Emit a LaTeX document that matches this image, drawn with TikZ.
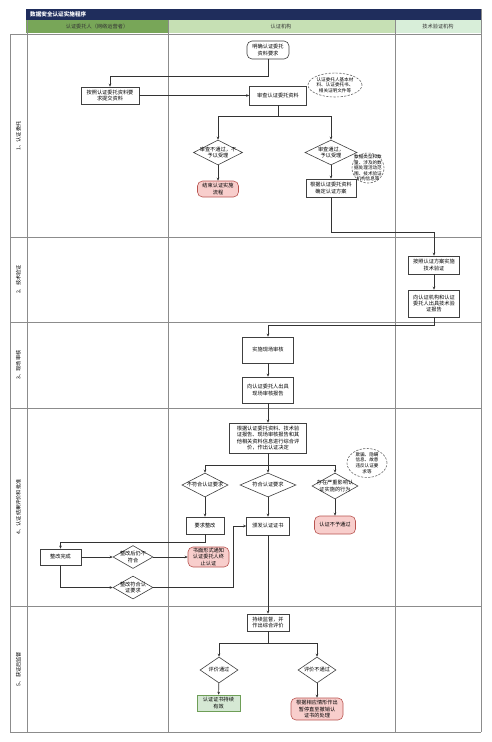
\documentclass[tikz,border=0pt]{standalone}
\usepackage{fontspec}
\newfontfamily\cjk{Noto Sans CJK SC}
\usetikzlibrary{arrows.meta,shapes.geometric}

\definecolor{navy}{RGB}{31,45,92}
\definecolor{laneA}{RGB}{120,166,88}
\definecolor{laneB}{RGB}{198,224,180}
\definecolor{laneC}{RGB}{216,238,217}
\definecolor{pinkfill}{HTML}{F8CECC}
\definecolor{pinkline}{HTML}{B85450}
\definecolor{greenfill}{HTML}{D5E8D4}
\definecolor{greenline}{HTML}{6E9E57}

\begin{document}
\begin{tikzpicture}[x=1pt,y=-1pt,>={Stealth[length=3pt,width=2.6pt]},
  every node/.style={font=\cjk\fontsize{5.2}{6.4}\selectfont,align=center,inner sep=0pt},
  box/.style={draw=black!75,line width=0.6pt,fill=white},
  term/.style={box,rounded corners=5pt},
  bad/.style={term,draw=pinkline,fill=pinkfill},
  good/.style={box,draw=greenline,fill=greenfill},
  dec/.style={diamond,draw=black!75,line width=0.6pt,fill=white,label={center:#1}},
  note/.style={ellipse,draw=black!60,line width=0.6pt,dash pattern=on 2.2pt off 1.4pt,fill=white,
    label={[font=\cjk\fontsize{4.6}{5.6}\selectfont]center:#1}},
  arr/.style={->,draw=black!80,line width=0.6pt},
  lane/.style={draw=black!45,line width=0.5pt},
  sec/.style={draw=black!45,line width=1pt}]
  \useasboundingbox (0,0) rectangle (491,742);

  % header
  \fill[navy] (26,9) rectangle (481,20);
  \node[anchor=west,text=white,font=\cjk\bfseries\fontsize{5.6}{6.6}\selectfont] (title) at (30,14.5) {数据安全认证实施程序};
  \fill[laneA] (26,20) rectangle (168,33);
  \fill[laneB] (168,20) rectangle (395,33);
  \fill[laneC] (395,20) rectangle (481,33);
  \node[text=black!80] (laneA) at (97,27) {认证委托人（网络运营者）};
  \node[text=black!80] (laneB) at (281,27) {认证机构};
  \node[text=black!80] (laneC) at (438,27) {技术验证机构};

  % grid
  \draw[lane] (10,34) -- (10,732) (27,20) -- (27,732) (168,20) -- (168,732)
    (395,20) -- (395,732) (481,9) -- (481,732);
  \draw[sec] (10,34) -- (481,34);
  \foreach \y in {237,322,408,606,732}
    \draw[sec] (10,\y) -- (481,\y);
  \node[rotate=90] (s1) at (18.5,136) {1、认证委托};
  \node[rotate=90] (s2) at (18.5,279.5) {2、技术验证};
  \node[rotate=90] (s3) at (18.5,365) {3、现场审核};
  \node[rotate=90] (s4) at (18.5,507) {4、认证结果评价和批准};
  \node[rotate=90] (s5) at (18.5,669) {5、获证后监督};

  % 1
  \node[term,minimum width=42,minimum height=18] (start) at (268,50) {明确认证委托\\资料要求};
  \node[box,minimum width=58,minimum height=17] (submit) at (110,95.5) {按照认证委托资料要\\求提交资料};
  \node[box,minimum width=57,minimum height=19] (review) at (278,95.5) {审查认证委托资料};
  \node[note={认证委托人基本材\\料、认证委托书、\\相关证明文件等},minimum width=54,minimum height=24] (note1) at (335,85) {};
  \node[dec={审查不通过，不\\予以受理},minimum width=49,minimum height=25] (rejDec) at (218,152.5) {};
  \node[dec={审查通过，\\予以受理},minimum width=52,minimum height=25] (accDec) at (331,152.5) {};
  \node[bad,minimum width=41,minimum height=16] (endA) at (218,189) {结束认证实施\\流程};
  \node[box,minimum width=50,minimum height=18] (plan) at (331,188) {根据认证委托资料\\确定认证方案};
  \node[note={数据类型和数\\量、涉及的数\\据处理活动范\\围、技术验证\\机构信息等},minimum width=32,minimum height=30] (note2) at (368,168) {};

  \draw[arr] (start.south) -- ++(0,17) -| (submit.north);
  \draw[arr] (submit) -- (review);
  \draw[arr] (review.south) -- ++(0,11) coordinate (br1) -| (rejDec.north);
  \draw[arr] (br1) -| (accDec.north);
  \draw[arr] (rejDec) -- (endA);
  \draw[arr] (accDec) -- (plan);

  % 2
  \node[box,minimum width=51,minimum height=18] (tech1) at (434,265) {按照认证方案实施\\技术验证};
  \node[box,minimum width=51,minimum height=27] (tech2) at (434,303.5) {向认证机构和认证\\委托人出具技术验\\证报告};
  \draw[arr] (plan.south) -- ++(0,35) -| (tech1.north);
  \draw[arr] (tech1) -- (tech2);

  % 3
  \node[box,minimum width=51,minimum height=26] (audit) at (268,350) {实施现场审核};
  \node[box,minimum width=51,minimum height=26] (audRep) at (268,390) {向认证委托人出具\\现场审核报告};
  \draw[arr] (tech2.south) -- ++(0,8) -| (audit.north);
  \draw[arr] (audit) -- (audRep);

  % 4
  \node[box,minimum width=77,minimum height=30] (eval) at (268,438) {根据认证委托资料、技术验\\证报告、现场审核报告和其\\他相关资料信息进行综合评\\价，作出认证决定};
  \node[dec={不符合认证要求},minimum width=46,minimum height=24] (noDec) at (205,485) {};
  \node[dec={符合认证要求},minimum width=56,minimum height=24] (yesDec) at (268,485) {};
  \node[dec={存在严重影响认\\证实施的行为},minimum width=46,minimum height=26] (badDec) at (335,486) {};
  \node[note={欺骗、隐瞒\\信息、故意\\违反认证要\\求等},minimum width=40,minimum height=29] (note3) at (367,463) {};
  \node[box,minimum width=38,minimum height=17] (fix) at (205,525.5) {要求整改};
  \node[box,minimum width=43,minimum height=18] (cert) at (268,526) {颁发认证证书};
  \node[bad,minimum width=41,minimum height=18] (fail) at (335,525) {认证不予通过};
  \node[box,minimum width=41,minimum height=16] (done) at (60.5,557) {整改完成};
  \node[dec={整改后仍不\\符合},minimum width=40,minimum height=23] (stillDec) at (133,557) {};
  \node[bad,minimum width=41,minimum height=20] (stopT) at (208.5,557) {书面形式通知\\认证委托人终\\止认证};
  \node[dec={整改符合认\\证要求},minimum width=40,minimum height=23] (okDec) at (133,587.5) {};

  \draw[arr] (audRep) -- (eval);
  \draw[arr] (eval.south) -- ++(0,12) coordinate (br2) -| (noDec.north);
  \draw[arr] (br2) -- (yesDec.north);
  \draw[arr] (br2) -| (badDec.north);
  \draw[arr] (noDec) -- (fix);
  \draw[arr] (yesDec) -- (cert);
  \draw[arr] (badDec) -- (fail);
  \draw[arr] (fix.south) -- ++(0,7.5) -| (done.north);
  \draw[arr] (done) -- (stillDec);
  \draw[arr] (stillDec) -- (stopT);
  \draw[arr] (done.south) |- (okDec.west);
  \draw[arr] (okDec.east) -- ++(80,0) |- (cert.west);

  % 5
  \node[box,minimum width=42,minimum height=17] (monitor) at (268,622.5) {持续监督，并\\作出综合评价};
  \node[dec={评价通过},minimum width=38,minimum height=26] (passDec) at (219,670) {};
  \node[dec={评价不通过},minimum width=38,minimum height=26] (failDec) at (317,670) {};
  \node[good,minimum width=43,minimum height=16] (valid) at (218.5,703) {认证证书持续\\有效};
  \node[bad,minimum width=52,minimum height=22] (revoke) at (317,709) {根据相应情形作出\\暂停直至撤销认\\证书的处理};

  \draw[arr] (cert) -- (monitor);
  \draw[arr] (monitor.south) -- ++(0,12) coordinate (br3) -| (passDec.north);
  \draw[arr] (br3) -| (failDec.north);
  \draw[arr] (passDec) -- (valid);
  \draw[arr] (failDec) -- (revoke);
\end{tikzpicture}
\end{document}
